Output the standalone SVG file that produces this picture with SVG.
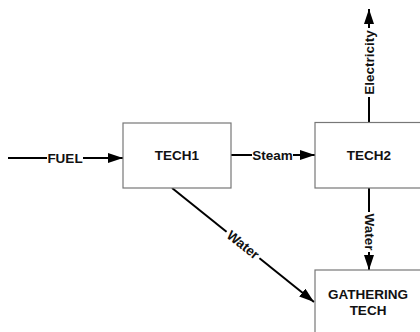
<svg xmlns="http://www.w3.org/2000/svg" width="420" height="332" viewBox="0 0 420 332">
  <defs>
    <marker id="arrow" viewBox="0 0 15 10" refX="15" refY="5" markerWidth="15" markerHeight="10" markerUnits="userSpaceOnUse" orient="auto">
      <path d="M0,0 L15,5 L0,10 z" fill="#000"/>
    </marker>
    <style>
      .box { fill: #fff; stroke: #777; stroke-width: 1.2; }
      .lbl { font-family: "Liberation Sans", Arial, sans-serif; font-weight: bold; font-size: 13.5px; fill: #111; text-anchor: middle; }
      .edge { stroke: #000; stroke-width: 2; fill: none; }
      .tag { font-family: "Liberation Sans", Arial, sans-serif; font-weight: bold; font-size: 13.5px; fill: #111; text-anchor: middle; dominant-baseline: central; }
      .bg { fill: #fff; }
    </style>
  </defs>
  <rect width="420" height="332" fill="#fff"/>

  <g id="connectors">
    <!-- FUEL into TECH1 -->
    <line class="edge" x1="8" y1="158" x2="123" y2="158" marker-end="url(#arrow)"/>
    <rect class="bg" x="47" y="150" width="36" height="16"/>
    <text class="tag" x="65" y="158">FUEL</text>

    <!-- Steam TECH1 -> TECH2 -->
    <line class="edge" x1="231" y1="155" x2="315" y2="155" marker-end="url(#arrow)"/>
    <rect class="bg" x="252" y="147" width="41" height="16"/>
    <text class="tag" x="272.5" y="155">Steam</text>

    <!-- Electricity out of TECH2 -->
    <line class="edge" x1="369" y1="122" x2="369" y2="9" marker-end="url(#arrow)"/>
    <rect class="bg" x="361" y="28" width="16" height="69"/>
    <text class="tag" transform="translate(369,62.5) rotate(-90)" x="0" y="0">Electricity</text>

    <!-- Water TECH2 -> GATHERING TECH -->
    <line class="edge" x1="369" y1="188" x2="369" y2="270" marker-end="url(#arrow)"/>
    <rect class="bg" x="361" y="212" width="16" height="40"/>
    <text class="tag" transform="translate(369,232) rotate(90)" x="0" y="0">Water</text>

    <!-- Water TECH1 -> GATHERING TECH -->
    <line class="edge" x1="172" y1="188" x2="314" y2="302" marker-end="url(#arrow)"/>
    <g transform="translate(243,245) rotate(38.8)">
      <rect class="bg" x="-21" y="-8" width="42" height="16"/>
      <text class="tag" x="0" y="0">Water</text>
    </g>
  </g>

  <g id="tech1">
    <rect class="box" x="123" y="123" width="108" height="65"/>
    <text class="lbl" x="177" y="160">TECH1</text>
  </g>

  <g id="tech2">
    <rect class="box" x="315" y="122.5" width="108" height="65.5"/>
    <text class="lbl" x="369" y="160">TECH2</text>
  </g>

  <g id="gathering-tech">
    <rect class="box" x="315" y="270" width="108" height="70"/>
    <text class="lbl" x="368" y="299">GATHERING</text>
    <text class="lbl" x="368" y="315">TECH</text>
  </g>
</svg>
